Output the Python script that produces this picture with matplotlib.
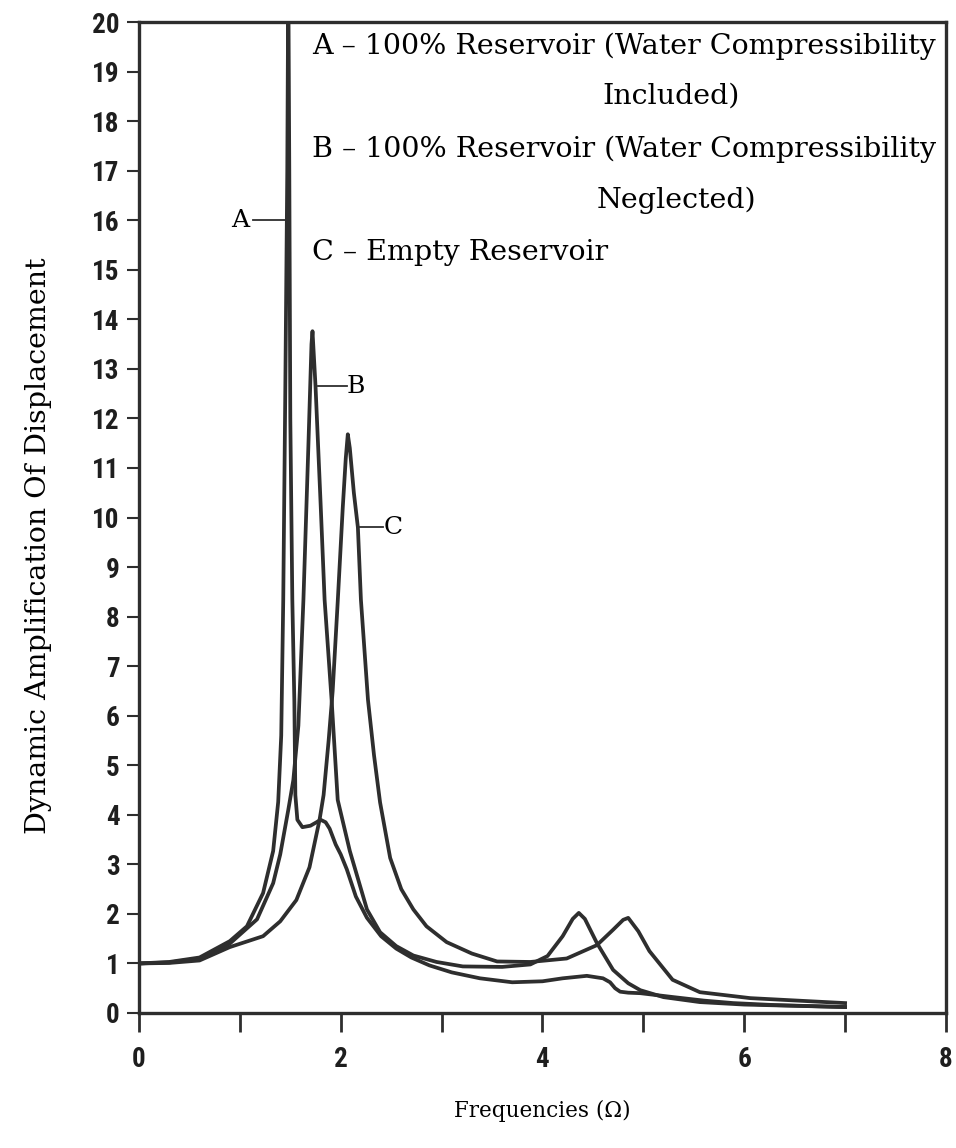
import numpy as np
import matplotlib.pyplot as plt

# curve A - 100% reservoir, water compressibility included
freq_a = [0, 0.3, 0.6, 0.9, 1.07, 1.23, 1.33, 1.38, 1.41, 1.43, 1.45, 1.47, 1.48,
          1.49, 1.50, 1.52, 1.54, 1.55, 1.57, 1.62, 1.70, 1.76, 1.80, 1.85, 1.89,
          1.95, 2.0, 2.06, 2.15, 2.26, 2.4, 2.55, 2.7, 2.88, 3.1, 3.38, 3.7, 4.0,
          4.2, 4.44, 4.6, 4.67, 4.72, 4.77, 4.85, 4.97, 5.3, 5.6, 5.89, 6.3, 7.0]
amp_a = [1.0, 1.03, 1.12, 1.45, 1.75, 2.42, 3.27, 4.26, 5.6, 8.34, 12.5, 17.0, 21.0,
         17.0, 12.0, 8.34, 6.3, 4.4, 3.9, 3.75, 3.78, 3.85, 3.9, 3.85, 3.72,
         3.4, 3.2, 2.9, 2.35, 1.92, 1.55, 1.30, 1.12, 0.96, 0.82, 0.70, 0.62, 0.64,
         0.70, 0.75, 0.70, 0.62, 0.50, 0.43, 0.41, 0.40, 0.32, 0.25, 0.20, 0.16, 0.12]

# curve B - 100% reservoir, water compressibility neglected
freq_b = [0, 0.3, 0.6, 0.9, 1.17, 1.33, 1.40, 1.48, 1.53, 1.58, 1.63, 1.68, 1.71,
          1.72, 1.75, 1.80, 1.84, 1.91, 1.97, 2.09, 2.26, 2.39, 2.55, 2.72, 2.95,
          3.21, 3.6, 3.88, 4.05, 4.2, 4.3, 4.36, 4.42, 4.54, 4.70, 4.85, 4.97,
          5.2, 5.56, 6.0, 7.0]
amp_b = [1.0, 1.02, 1.1, 1.4, 1.89, 2.62, 3.2, 4.1, 4.7, 5.8, 8.34, 11.5, 13.5,
         13.76, 12.65, 10.3, 8.34, 6.3, 4.3, 3.27, 2.09, 1.63, 1.35, 1.16, 1.03,
         0.94, 0.93, 0.98, 1.15, 1.55, 1.9, 2.02, 1.9, 1.41, 0.87, 0.60, 0.46,
         0.32, 0.22, 0.17, 0.12]

# curve C - empty reservoir
freq_c = [0, 0.3, 0.6, 0.9, 1.23, 1.40, 1.56, 1.69, 1.79, 1.83, 1.88, 1.92, 1.97,
          2.02, 2.05, 2.07, 2.09, 2.13, 2.17, 2.20, 2.27, 2.33, 2.39, 2.49, 2.60,
          2.72, 2.85, 3.05, 3.3, 3.55, 3.88, 4.24, 4.54, 4.70, 4.80, 4.85, 4.95,
          5.06, 5.29, 5.56, 6.06, 7.0]
amp_c = [1.0, 1.01, 1.06, 1.33, 1.55, 1.85, 2.28, 2.94, 3.9, 4.4, 5.5, 6.5, 8.3,
         10.2, 11.2, 11.68, 11.4, 10.5, 9.8, 8.34, 6.32, 5.2, 4.25, 3.13, 2.5,
         2.09, 1.75, 1.43, 1.2, 1.04, 1.03, 1.1, 1.37, 1.68, 1.88, 1.92, 1.65,
         1.25, 0.67, 0.42, 0.30, 0.20]

legend_lines = ["A \u2013 100% Reservoir (Water Compressibility", "Included)",
                "B \u2013 100% Reservoir (Water Compressibility", "Neglected)",
                "C \u2013 Empty Reservoir"]

serif = ['DejaVu Serif']
numfont = ['Roboto Condensed', 'Roboto', 'DejaVu Sans']
col = '#2e2e2e'

fig = plt.figure(figsize=(9.56, 11.48), dpi=100)
ax = fig.add_axes([0.1454, 0.1176, 0.8441, 0.8632])

for f, a in [(freq_a, amp_a), (freq_b, amp_b), (freq_c, amp_c)]:
    ax.plot(f, a, color=col, lw=2.7, solid_joinstyle='round', clip_on=True)

ax.set_xlim(0, 8)
ax.set_ylim(0, 20)

ax.set_xticks(np.arange(0, 9, 1))
ax.set_xticklabels(['0', '', '2', '', '4', '', '6', '', '8'])
ax.set_yticks(np.arange(0, 21, 1))
ax.tick_params(axis='x', direction='out', length=14, width=2, color=col, pad=10)
ax.tick_params(axis='y', direction='out', length=9, width=1.5, color=col, pad=5)
for lab in ax.get_xticklabels() + ax.get_yticklabels():
    lab.set_family(numfont)
    lab.set_fontweight('bold')
    lab.set_fontsize(19.5)
    lab.set_color('#1e1e1e')

for sp in ax.spines.values():
    sp.set_linewidth(2.4)
    sp.set_color(col)

ax.set_xlabel("Frequencies (\u03a9)", family=serif, fontsize=15.5)
ax.xaxis.set_label_coords(0.5, -0.088)
ax.set_ylabel("Dynamic Amplification Of Displacement", family=serif, fontsize=20.5)
ax.yaxis.set_label_coords(-0.108, 0.472)

# legend text
fs = 20.5
ax.text(1.72, 19.5, legend_lines[0], family=serif, fontsize=fs, va='center')
ax.text(5.27, 18.5, legend_lines[1], family=serif, fontsize=fs, va='center', ha='center')
ax.text(1.72, 17.44, legend_lines[2], family=serif, fontsize=fs, va='center')
ax.text(5.33, 16.4, legend_lines[3], family=serif, fontsize=fs, va='center', ha='center')
ax.text(1.72, 15.34, legend_lines[4], family=serif, fontsize=fs, va='center')

# curve labels
ax.plot([1.13, 1.45], [16.0, 16.0], color=col, lw=1.3)
ax.text(1.0, 16.0, "A", family=serif, fontsize=18, va='center', ha='center')
ax.plot([1.77, 2.06], [12.65, 12.65], color=col, lw=1.3)
ax.text(2.15, 12.65, "B", family=serif, fontsize=18, va='center', ha='center')
ax.plot([2.16, 2.42], [9.8, 9.8], color=col, lw=1.3)
ax.text(2.52, 9.8, "C", family=serif, fontsize=18, va='center', ha='center')

fig.savefig("out.png", dpi=100)
